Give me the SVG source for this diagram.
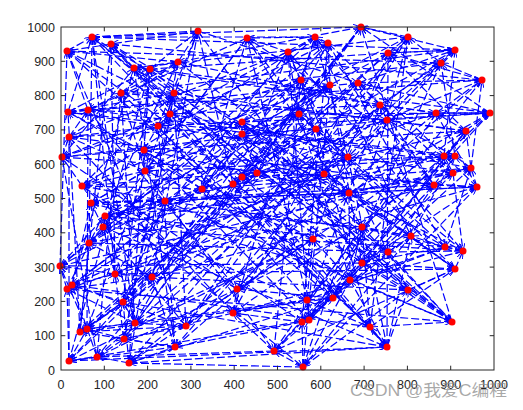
<svg xmlns="http://www.w3.org/2000/svg" width="523" height="410" viewBox="0 0 523 410">
<style>
.bg{fill:#fff}
.ax{fill:none;stroke:#262626;stroke-width:1}
.tl{font-family:"Liberation Sans",Arial,sans-serif;font-size:12.5px;fill:#262626}
.n{fill:#f00}
#edges path{fill:none;stroke:#0000ff;stroke-width:1.2;stroke-dasharray:8 3;marker-end:url(#ah)}
.wm{font-family:"Liberation Sans","Noto Sans CJK SC",sans-serif;font-size:16px;fill:#8c8c8c;fill-opacity:0.75}
</style>
<defs>
<marker id="ah" viewBox="0 0 8 6" refX="8" refY="3" markerWidth="8" markerHeight="6" markerUnits="userSpaceOnUse" orient="auto"><path d="M0 0L8 3L0 6" fill="none" stroke="#0000ff" stroke-width="1"/></marker>
</defs>
<rect class="bg" x="0" y="0" width="523" height="410"/>
<g id="edges">
<path d="M67 51L92 37"/><path d="M198 31L92 37"/><path d="M68 112L92 37"/><path d="M257 173L92 37"/><path d="M89 243L92 37"/>
<path d="M111 44L67 51"/><path d="M178 62L67 51"/><path d="M88 110L67 51"/><path d="M242 177L67 51"/><path d="M60 266L67 51"/>
<path d="M198 31L111 44"/><path d="M134 68L111 44"/><path d="M170 114L111 44"/><path d="M324 174L111 44"/><path d="M115 274L111 44"/>
<path d="M178 62L198 31"/><path d="M150 69L198 31"/><path d="M158 126L198 31"/><path d="M233 184L198 31"/><path d="M152 277L198 31"/>
<path d="M134 68L178 62"/><path d="M121 93L178 62"/><path d="M69 137L178 62"/><path d="M361 27L178 62"/><path d="M67 289L178 62"/>
<path d="M150 69L134 68"/><path d="M174 93L134 68"/><path d="M62 157L134 68"/><path d="M408 37L134 68"/><path d="M72 285L134 68"/>
<path d="M121 93L150 69"/><path d="M68 112L150 69"/><path d="M144 150L150 69"/><path d="M388 53L150 69"/><path d="M123 302L150 69"/>
<path d="M174 93L121 93"/><path d="M88 110L121 93"/><path d="M145 171L121 93"/><path d="M455 50L121 93"/><path d="M135 323L121 93"/>
<path d="M68 112L174 93"/><path d="M170 114L174 93"/><path d="M82 186L174 93"/><path d="M441 63L174 93"/><path d="M186 326L174 93"/>
<path d="M88 110L68 112"/><path d="M158 126L68 112"/><path d="M202 189L68 112"/><path d="M482 80L68 112"/><path d="M80 332L68 112"/>
<path d="M170 114L88 110"/><path d="M69 137L88 110"/><path d="M247 38L88 110"/><path d="M358 83L88 110"/><path d="M87 329L88 110"/>
<path d="M158 126L170 114"/><path d="M62 157L170 114"/><path d="M315 37L170 114"/><path d="M380 105L170 114"/><path d="M124 339L170 114"/>
<path d="M69 137L158 126"/><path d="M144 150L158 126"/><path d="M328 43L158 126"/><path d="M436 113L158 126"/><path d="M175 347L158 126"/>
<path d="M62 157L69 137"/><path d="M145 171L69 137"/><path d="M288 52L69 137"/><path d="M490 113L69 137"/><path d="M69 361L69 137"/>
<path d="M144 150L62 157"/><path d="M82 186L62 157"/><path d="M301 80L62 157"/><path d="M387 120L62 157"/><path d="M97 357L62 157"/>
<path d="M145 171L144 150"/><path d="M202 189L144 150"/><path d="M330 85L144 150"/><path d="M466 131L144 150"/><path d="M129 363L144 150"/>
<path d="M82 186L145 171"/><path d="M247 38L145 171"/><path d="M299 114L145 171"/><path d="M444 156L145 171"/><path d="M313 239L145 171"/>
<path d="M202 189L82 186"/><path d="M315 37L82 186"/><path d="M242 122L82 186"/><path d="M455 156L82 186"/><path d="M237 289L82 186"/>
<path d="M247 38L202 189"/><path d="M328 43L202 189"/><path d="M242 134L202 189"/><path d="M471 168L202 189"/><path d="M333 298L202 189"/>
<path d="M315 37L247 38"/><path d="M288 52L247 38"/><path d="M316 129L247 38"/><path d="M453 173L247 38"/><path d="M307 300L247 38"/>
<path d="M328 43L315 37"/><path d="M301 80L315 37"/><path d="M348 157L315 37"/><path d="M434 185L315 37"/><path d="M233 313L315 37"/>
<path d="M288 52L328 43"/><path d="M330 85L328 43"/><path d="M257 173L328 43"/><path d="M477 187L328 43"/><path d="M302 322L328 43"/>
<path d="M301 80L288 52"/><path d="M299 114L288 52"/><path d="M242 177L288 52"/><path d="M349 193L288 52"/><path d="M309 320L288 52"/>
<path d="M330 85L301 80"/><path d="M242 122L301 80"/><path d="M324 174L301 80"/><path d="M91 203L301 80"/><path d="M274 351L301 80"/>
<path d="M299 114L330 85"/><path d="M242 134L330 85"/><path d="M233 184L330 85"/><path d="M165 201L330 85"/><path d="M303 367L330 85"/>
<path d="M242 122L299 114"/><path d="M316 129L299 114"/><path d="M361 27L299 114"/><path d="M105 216L299 114"/><path d="M350 280L299 114"/>
<path d="M242 134L242 122"/><path d="M348 157L242 122"/><path d="M408 37L242 122"/><path d="M103 227L242 122"/><path d="M362 227L242 122"/>
<path d="M316 129L242 134"/><path d="M257 173L242 134"/><path d="M388 53L242 134"/><path d="M89 243L242 134"/><path d="M411 236L242 134"/>
<path d="M348 157L316 129"/><path d="M242 177L316 129"/><path d="M455 50L316 129"/><path d="M60 266L316 129"/><path d="M445 247L316 129"/>
<path d="M257 173L348 157"/><path d="M324 174L348 157"/><path d="M441 63L348 157"/><path d="M115 274L348 157"/><path d="M463 251L348 157"/>
<path d="M242 177L257 173"/><path d="M233 184L257 173"/><path d="M482 80L257 173"/><path d="M152 277L257 173"/><path d="M388 252L257 173"/>
<path d="M324 174L242 177"/><path d="M361 27L242 177"/><path d="M358 83L242 177"/><path d="M67 289L242 177"/><path d="M362 263L242 177"/>
<path d="M233 184L324 174"/><path d="M408 37L324 174"/><path d="M380 105L324 174"/><path d="M72 285L324 174"/><path d="M455 269L324 174"/>
<path d="M361 27L233 184"/><path d="M388 53L233 184"/><path d="M436 113L233 184"/><path d="M123 302L233 184"/><path d="M408 290L233 184"/>
<path d="M408 37L361 27"/><path d="M455 50L361 27"/><path d="M490 113L361 27"/><path d="M135 323L361 27"/><path d="M452 322L361 27"/>
<path d="M388 53L408 37"/><path d="M441 63L408 37"/><path d="M387 120L408 37"/><path d="M186 326L408 37"/><path d="M370 327L408 37"/>
<path d="M455 50L388 53"/><path d="M482 80L388 53"/><path d="M466 131L388 53"/><path d="M80 332L388 53"/><path d="M387 347L388 53"/>
<path d="M441 63L455 50"/><path d="M358 83L455 50"/><path d="M444 156L455 50"/><path d="M87 329L455 50"/><path d="M92 37L455 50"/>
<path d="M482 80L441 63"/><path d="M380 105L441 63"/><path d="M455 156L441 63"/><path d="M124 339L441 63"/><path d="M67 51L441 63"/>
<path d="M358 83L482 80"/><path d="M436 113L482 80"/><path d="M471 168L482 80"/><path d="M175 347L482 80"/><path d="M111 44L482 80"/>
<path d="M380 105L358 83"/><path d="M490 113L358 83"/><path d="M453 173L358 83"/><path d="M69 361L358 83"/><path d="M198 31L358 83"/>
<path d="M436 113L380 105"/><path d="M387 120L380 105"/><path d="M434 185L380 105"/><path d="M97 357L380 105"/><path d="M178 62L380 105"/>
<path d="M490 113L436 113"/><path d="M466 131L436 113"/><path d="M477 187L436 113"/><path d="M129 363L436 113"/><path d="M134 68L436 113"/>
<path d="M387 120L490 113"/><path d="M444 156L490 113"/><path d="M349 193L490 113"/><path d="M313 239L490 113"/><path d="M150 69L490 113"/>
<path d="M466 131L387 120"/><path d="M455 156L387 120"/><path d="M91 203L387 120"/><path d="M237 289L387 120"/><path d="M121 93L387 120"/>
<path d="M444 156L466 131"/><path d="M471 168L466 131"/><path d="M165 201L466 131"/><path d="M333 298L466 131"/><path d="M174 93L466 131"/>
<path d="M455 156L444 156"/><path d="M453 173L444 156"/><path d="M105 216L444 156"/><path d="M307 300L444 156"/><path d="M68 112L444 156"/>
<path d="M471 168L455 156"/><path d="M434 185L455 156"/><path d="M103 227L455 156"/><path d="M233 313L455 156"/><path d="M88 110L455 156"/>
<path d="M453 173L471 168"/><path d="M477 187L471 168"/><path d="M89 243L471 168"/><path d="M302 322L471 168"/><path d="M170 114L471 168"/>
<path d="M434 185L453 173"/><path d="M349 193L453 173"/><path d="M60 266L453 173"/><path d="M309 320L453 173"/><path d="M158 126L453 173"/>
<path d="M477 187L434 185"/><path d="M91 203L434 185"/><path d="M115 274L434 185"/><path d="M274 351L434 185"/><path d="M69 137L434 185"/>
<path d="M349 193L477 187"/><path d="M165 201L477 187"/><path d="M152 277L477 187"/><path d="M303 367L477 187"/><path d="M62 157L477 187"/>
<path d="M91 203L349 193"/><path d="M105 216L349 193"/><path d="M67 289L349 193"/><path d="M350 280L349 193"/><path d="M144 150L349 193"/>
<path d="M165 201L91 203"/><path d="M103 227L91 203"/><path d="M72 285L91 203"/><path d="M362 227L91 203"/><path d="M145 171L91 203"/>
<path d="M105 216L165 201"/><path d="M89 243L165 201"/><path d="M123 302L165 201"/><path d="M411 236L165 201"/><path d="M82 186L165 201"/>
<path d="M103 227L105 216"/><path d="M60 266L105 216"/><path d="M135 323L105 216"/><path d="M445 247L105 216"/><path d="M202 189L105 216"/>
<path d="M89 243L103 227"/><path d="M115 274L103 227"/><path d="M186 326L103 227"/><path d="M463 251L103 227"/><path d="M247 38L103 227"/>
<path d="M60 266L89 243"/><path d="M152 277L89 243"/><path d="M80 332L89 243"/><path d="M388 252L89 243"/><path d="M315 37L89 243"/>
<path d="M115 274L60 266"/><path d="M67 289L60 266"/><path d="M87 329L60 266"/><path d="M362 263L60 266"/><path d="M328 43L60 266"/>
<path d="M152 277L115 274"/><path d="M72 285L115 274"/><path d="M124 339L115 274"/><path d="M455 269L115 274"/><path d="M288 52L115 274"/>
<path d="M67 289L152 277"/><path d="M123 302L152 277"/><path d="M175 347L152 277"/><path d="M408 290L152 277"/><path d="M301 80L152 277"/>
<path d="M72 285L67 289"/><path d="M135 323L67 289"/><path d="M69 361L67 289"/><path d="M452 322L67 289"/><path d="M330 85L67 289"/>
<path d="M123 302L72 285"/><path d="M186 326L72 285"/><path d="M97 357L72 285"/><path d="M370 327L72 285"/><path d="M299 114L72 285"/>
<path d="M135 323L123 302"/><path d="M80 332L123 302"/><path d="M129 363L123 302"/><path d="M387 347L123 302"/><path d="M242 122L123 302"/>
<path d="M186 326L135 323"/><path d="M87 329L135 323"/><path d="M313 239L135 323"/><path d="M92 37L135 323"/><path d="M242 134L135 323"/>
<path d="M80 332L186 326"/><path d="M124 339L186 326"/><path d="M237 289L186 326"/><path d="M67 51L186 326"/><path d="M316 129L186 326"/>
<path d="M87 329L80 332"/><path d="M175 347L80 332"/><path d="M333 298L80 332"/><path d="M111 44L80 332"/><path d="M348 157L80 332"/>
<path d="M124 339L87 329"/><path d="M69 361L87 329"/><path d="M307 300L87 329"/><path d="M198 31L87 329"/><path d="M257 173L87 329"/>
<path d="M175 347L124 339"/><path d="M97 357L124 339"/><path d="M233 313L124 339"/><path d="M178 62L124 339"/><path d="M242 177L124 339"/>
<path d="M69 361L175 347"/><path d="M129 363L175 347"/><path d="M302 322L175 347"/><path d="M134 68L175 347"/><path d="M324 174L175 347"/>
<path d="M97 357L69 361"/><path d="M313 239L69 361"/><path d="M309 320L69 361"/><path d="M150 69L69 361"/><path d="M233 184L69 361"/>
<path d="M129 363L97 357"/><path d="M237 289L97 357"/><path d="M274 351L97 357"/><path d="M121 93L97 357"/><path d="M361 27L97 357"/>
<path d="M313 239L129 363"/><path d="M333 298L129 363"/><path d="M303 367L129 363"/><path d="M174 93L129 363"/><path d="M408 37L129 363"/>
<path d="M237 289L313 239"/><path d="M307 300L313 239"/><path d="M350 280L313 239"/><path d="M68 112L313 239"/><path d="M388 53L313 239"/>
<path d="M333 298L237 289"/><path d="M233 313L237 289"/><path d="M362 227L237 289"/><path d="M88 110L237 289"/><path d="M455 50L237 289"/>
<path d="M307 300L333 298"/><path d="M302 322L333 298"/><path d="M411 236L333 298"/><path d="M170 114L333 298"/><path d="M441 63L333 298"/>
<path d="M233 313L307 300"/><path d="M309 320L307 300"/><path d="M445 247L307 300"/><path d="M158 126L307 300"/><path d="M482 80L307 300"/>
<path d="M302 322L233 313"/><path d="M274 351L233 313"/><path d="M463 251L233 313"/><path d="M69 137L233 313"/><path d="M358 83L233 313"/>
<path d="M309 320L302 322"/><path d="M303 367L302 322"/><path d="M388 252L302 322"/><path d="M62 157L302 322"/><path d="M380 105L302 322"/>
<path d="M274 351L309 320"/><path d="M350 280L309 320"/><path d="M362 263L309 320"/><path d="M144 150L309 320"/><path d="M436 113L309 320"/>
<path d="M303 367L274 351"/><path d="M362 227L274 351"/><path d="M455 269L274 351"/><path d="M145 171L274 351"/><path d="M490 113L274 351"/>
<path d="M350 280L303 367"/><path d="M411 236L303 367"/><path d="M408 290L303 367"/><path d="M82 186L303 367"/><path d="M387 120L303 367"/>
<path d="M362 227L350 280"/><path d="M445 247L350 280"/><path d="M452 322L350 280"/><path d="M202 189L350 280"/><path d="M466 131L350 280"/>
<path d="M411 236L362 227"/><path d="M463 251L362 227"/><path d="M370 327L362 227"/><path d="M247 38L362 227"/><path d="M444 156L362 227"/>
<path d="M445 247L411 236"/><path d="M388 252L411 236"/><path d="M387 347L411 236"/><path d="M315 37L411 236"/><path d="M455 156L411 236"/>
<path d="M463 251L445 247"/><path d="M362 263L445 247"/><path d="M92 37L445 247"/><path d="M328 43L445 247"/><path d="M471 168L445 247"/>
<path d="M388 252L463 251"/><path d="M455 269L463 251"/><path d="M67 51L463 251"/><path d="M288 52L463 251"/><path d="M453 173L463 251"/>
<path d="M362 263L388 252"/><path d="M408 290L388 252"/><path d="M111 44L388 252"/><path d="M301 80L388 252"/><path d="M434 185L388 252"/>
<path d="M455 269L362 263"/><path d="M452 322L362 263"/><path d="M198 31L362 263"/><path d="M330 85L362 263"/><path d="M477 187L362 263"/>
<path d="M408 290L455 269"/><path d="M370 327L455 269"/><path d="M178 62L455 269"/><path d="M299 114L455 269"/><path d="M349 193L455 269"/>
<path d="M452 322L408 290"/><path d="M387 347L408 290"/><path d="M134 68L408 290"/><path d="M242 122L408 290"/><path d="M91 203L408 290"/>
<path d="M370 327L452 322"/><path d="M92 37L452 322"/><path d="M150 69L452 322"/><path d="M242 134L452 322"/><path d="M165 201L452 322"/>
<path d="M387 347L370 327"/><path d="M67 51L370 327"/><path d="M121 93L370 327"/><path d="M316 129L370 327"/><path d="M105 216L370 327"/>
<path d="M92 37L387 347"/><path d="M111 44L387 347"/><path d="M174 93L387 347"/><path d="M348 157L387 347"/><path d="M103 227L387 347"/>
<path d="M69 361L387 347"/><path d="M388 53L455 50"/><path d="M436 113L490 113"/><path d="M299 114L490 113"/><path d="M92 37L361 27"/>
<path d="M92 37L315 37"/><path d="M115 274L92 37"/><path d="M350 280L387 347"/><path d="M362 227L452 322"/><path d="M388 252L452 322"/>
<path d="M129 363L387 347"/>
</g>
<g id="nodes">
<g id="n0" class="n"><circle cx="92" cy="37" r="3.5"/></g>
<g id="n1" class="n"><circle cx="67" cy="51" r="3.5"/></g>
<g id="n2" class="n"><circle cx="111" cy="44" r="3.5"/></g>
<g id="n3" class="n"><circle cx="198" cy="31" r="3.5"/></g>
<g id="n4" class="n"><circle cx="178" cy="62" r="3.5"/></g>
<g id="n5" class="n"><circle cx="134" cy="68" r="3.5"/></g>
<g id="n6" class="n"><circle cx="150" cy="69" r="3.5"/></g>
<g id="n7" class="n"><circle cx="121" cy="93" r="3.5"/></g>
<g id="n8" class="n"><circle cx="174" cy="93" r="3.5"/></g>
<g id="n9" class="n"><circle cx="68" cy="112" r="3.5"/></g>
<g id="n10" class="n"><circle cx="88" cy="110" r="3.5"/></g>
<g id="n11" class="n"><circle cx="170" cy="114" r="3.5"/></g>
<g id="n12" class="n"><circle cx="158" cy="126" r="3.5"/></g>
<g id="n13" class="n"><circle cx="69" cy="137" r="3.5"/></g>
<g id="n14" class="n"><circle cx="62" cy="157" r="3.5"/></g>
<g id="n15" class="n"><circle cx="144" cy="150" r="3.5"/></g>
<g id="n16" class="n"><circle cx="145" cy="171" r="3.5"/></g>
<g id="n17" class="n"><circle cx="82" cy="186" r="3.5"/></g>
<g id="n18" class="n"><circle cx="202" cy="189" r="3.5"/></g>
<g id="n19" class="n"><circle cx="247" cy="38" r="3.5"/></g>
<g id="n20" class="n"><circle cx="315" cy="37" r="3.5"/></g>
<g id="n21" class="n"><circle cx="328" cy="43" r="3.5"/></g>
<g id="n22" class="n"><circle cx="288" cy="52" r="3.5"/></g>
<g id="n23" class="n"><circle cx="301" cy="80" r="3.5"/></g>
<g id="n24" class="n"><circle cx="330" cy="85" r="3.5"/></g>
<g id="n25" class="n"><circle cx="299" cy="114" r="3.5"/></g>
<g id="n26" class="n"><circle cx="242" cy="122" r="3.5"/></g>
<g id="n27" class="n"><circle cx="242" cy="134" r="3.5"/></g>
<g id="n28" class="n"><circle cx="316" cy="129" r="3.5"/></g>
<g id="n29" class="n"><circle cx="348" cy="157" r="3.5"/></g>
<g id="n30" class="n"><circle cx="257" cy="173" r="3.5"/></g>
<g id="n31" class="n"><circle cx="242" cy="177" r="3.5"/></g>
<g id="n32" class="n"><circle cx="324" cy="174" r="3.5"/></g>
<g id="n33" class="n"><circle cx="233" cy="184" r="3.5"/></g>
<g id="n34" class="n"><circle cx="361" cy="27" r="3.5"/></g>
<g id="n35" class="n"><circle cx="408" cy="37" r="3.5"/></g>
<g id="n36" class="n"><circle cx="388" cy="53" r="3.5"/></g>
<g id="n37" class="n"><circle cx="455" cy="50" r="3.5"/></g>
<g id="n38" class="n"><circle cx="441" cy="63" r="3.5"/></g>
<g id="n39" class="n"><circle cx="482" cy="80" r="3.5"/></g>
<g id="n40" class="n"><circle cx="358" cy="83" r="3.5"/></g>
<g id="n41" class="n"><circle cx="380" cy="105" r="3.5"/></g>
<g id="n42" class="n"><circle cx="436" cy="113" r="3.5"/></g>
<g id="n43" class="n"><circle cx="490" cy="113" r="3.5"/></g>
<g id="n44" class="n"><circle cx="387" cy="120" r="3.5"/></g>
<g id="n45" class="n"><circle cx="466" cy="131" r="3.5"/></g>
<g id="n46" class="n"><circle cx="444" cy="156" r="3.5"/></g>
<g id="n47" class="n"><circle cx="455" cy="156" r="3.5"/></g>
<g id="n48" class="n"><circle cx="471" cy="168" r="3.5"/></g>
<g id="n49" class="n"><circle cx="453" cy="173" r="3.5"/></g>
<g id="n50" class="n"><circle cx="434" cy="185" r="3.5"/></g>
<g id="n51" class="n"><circle cx="477" cy="187" r="3.5"/></g>
<g id="n52" class="n"><circle cx="349" cy="193" r="3.5"/></g>
<g id="n53" class="n"><circle cx="91" cy="203" r="3.5"/></g>
<g id="n54" class="n"><circle cx="165" cy="201" r="3.5"/></g>
<g id="n55" class="n"><circle cx="105" cy="216" r="3.5"/></g>
<g id="n56" class="n"><circle cx="103" cy="227" r="3.5"/></g>
<g id="n57" class="n"><circle cx="89" cy="243" r="3.5"/></g>
<g id="n58" class="n"><circle cx="60" cy="266" r="3.5"/></g>
<g id="n59" class="n"><circle cx="115" cy="274" r="3.5"/></g>
<g id="n60" class="n"><circle cx="152" cy="277" r="3.5"/></g>
<g id="n61" class="n"><circle cx="67" cy="289" r="3.5"/></g>
<g id="n62" class="n"><circle cx="72" cy="285" r="3.5"/></g>
<g id="n63" class="n"><circle cx="123" cy="302" r="3.5"/></g>
<g id="n64" class="n"><circle cx="135" cy="323" r="3.5"/></g>
<g id="n65" class="n"><circle cx="186" cy="326" r="3.5"/></g>
<g id="n66" class="n"><circle cx="80" cy="332" r="3.5"/></g>
<g id="n67" class="n"><circle cx="87" cy="329" r="3.5"/></g>
<g id="n68" class="n"><circle cx="124" cy="339" r="3.5"/></g>
<g id="n69" class="n"><circle cx="175" cy="347" r="3.5"/></g>
<g id="n70" class="n"><circle cx="69" cy="361" r="3.5"/></g>
<g id="n71" class="n"><circle cx="97" cy="357" r="3.5"/></g>
<g id="n72" class="n"><circle cx="129" cy="363" r="3.5"/></g>
<g id="n73" class="n"><circle cx="313" cy="239" r="3.5"/></g>
<g id="n74" class="n"><circle cx="237" cy="289" r="3.5"/></g>
<g id="n75" class="n"><circle cx="333" cy="298" r="3.5"/></g>
<g id="n76" class="n"><circle cx="307" cy="300" r="3.5"/></g>
<g id="n77" class="n"><circle cx="233" cy="313" r="3.5"/></g>
<g id="n78" class="n"><circle cx="302" cy="322" r="3.5"/></g>
<g id="n79" class="n"><circle cx="309" cy="320" r="3.5"/></g>
<g id="n80" class="n"><circle cx="274" cy="351" r="3.5"/></g>
<g id="n81" class="n"><circle cx="303" cy="367" r="3.5"/></g>
<g id="n82" class="n"><circle cx="350" cy="280" r="3.5"/></g>
<g id="n83" class="n"><circle cx="362" cy="227" r="3.5"/></g>
<g id="n84" class="n"><circle cx="411" cy="236" r="3.5"/></g>
<g id="n85" class="n"><circle cx="445" cy="247" r="3.5"/></g>
<g id="n86" class="n"><circle cx="463" cy="251" r="3.5"/></g>
<g id="n87" class="n"><circle cx="388" cy="252" r="3.5"/></g>
<g id="n88" class="n"><circle cx="362" cy="263" r="3.5"/></g>
<g id="n89" class="n"><circle cx="455" cy="269" r="3.5"/></g>
<g id="n90" class="n"><circle cx="408" cy="290" r="3.5"/></g>
<g id="n91" class="n"><circle cx="452" cy="322" r="3.5"/></g>
<g id="n92" class="n"><circle cx="370" cy="327" r="3.5"/></g>
<g id="n93" class="n"><circle cx="387" cy="347" r="3.5"/></g>
</g>
<g id="axes">
<rect class="ax" x="61" y="27" width="433" height="343"/>
<path class="ax" d="M104.3 370v-4.3M147.6 370v-4.3M190.9 370v-4.3M234.2 370v-4.3M277.5 370v-4.3M320.8 370v-4.3M364.1 370v-4.3M407.4 370v-4.3M450.7 370v-4.3M104.3 27v4.3M147.6 27v4.3M190.9 27v4.3M234.2 27v4.3M277.5 27v4.3M320.8 27v4.3M364.1 27v4.3M407.4 27v4.3M450.7 27v4.3M61 335.7h4.3M61 301.4h4.3M61 267.1h4.3M61 232.8h4.3M61 198.5h4.3M61 164.2h4.3M61 129.9h4.3M61 95.6h4.3M61 61.3h4.3M494 335.7h-4.3M494 301.4h-4.3M494 267.1h-4.3M494 232.8h-4.3M494 198.5h-4.3M494 164.2h-4.3M494 129.9h-4.3M494 95.6h-4.3M494 61.3h-4.3"/>
<g class="tl" text-anchor="middle">
<text x="61" y="388.5">0</text><text x="104.3" y="388.5">100</text><text x="147.6" y="388.5">200</text><text x="190.9" y="388.5">300</text><text x="234.2" y="388.5">400</text><text x="277.5" y="388.5">500</text><text x="320.8" y="388.5">600</text><text x="364.1" y="388.5">700</text><text x="407.4" y="388.5">800</text><text x="450.7" y="388.5">900</text><text x="494" y="388.5">1000</text>
</g>
<g class="tl" text-anchor="end">
<text x="55" y="374.5">0</text><text x="55" y="340.2">100</text><text x="55" y="305.9">200</text><text x="55" y="271.6">300</text><text x="55" y="237.3">400</text><text x="55" y="203">500</text><text x="55" y="168.7">600</text><text x="55" y="134.4">700</text><text x="55" y="100.1">800</text><text x="55" y="65.8">900</text><text x="55" y="31.5">1000</text>
</g>
</g>
<text class="wm" x="350" y="396" textLength="157" lengthAdjust="spacingAndGlyphs">CSDN @我爱C编程</text>
</svg>
